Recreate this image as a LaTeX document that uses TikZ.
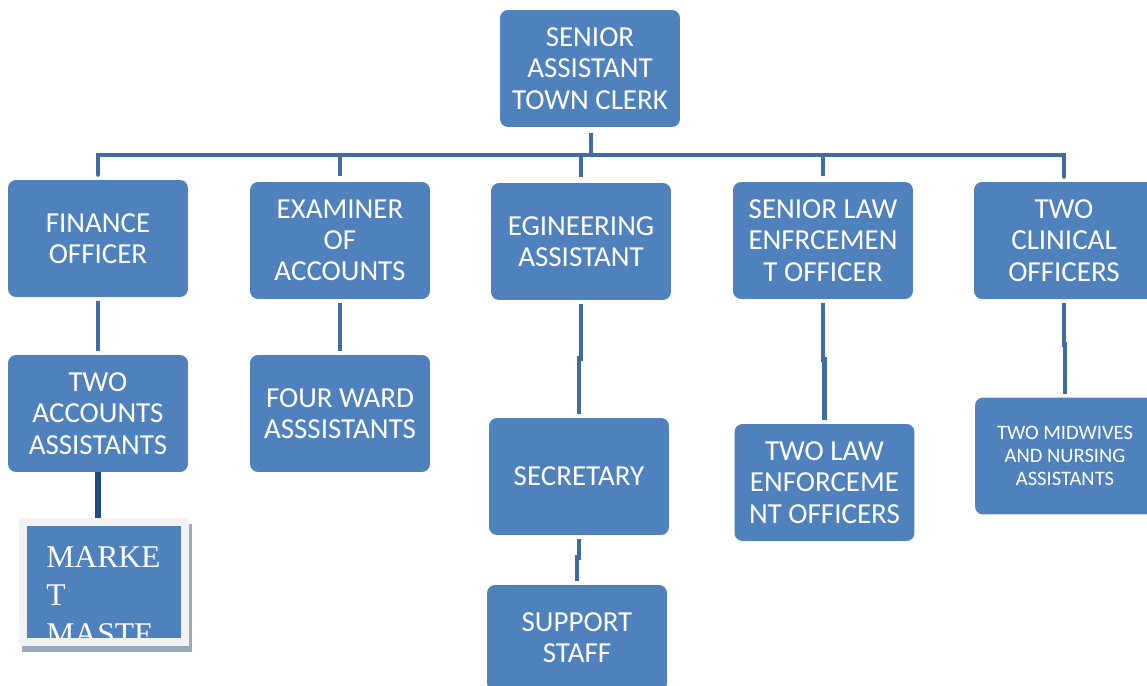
\documentclass[tikz,border=0pt]{standalone}
\usepackage{fontspec}
\setmainfont{Carlito}
\newfontfamily\marketface{Liberation Serif}
\definecolor{boxblue}{RGB}{79,129,189}
\definecolor{linkblue}{RGB}{65,108,162}
\definecolor{marketblue}{RGB}{31,74,128}
\definecolor{framegrey}{RGB}{242,242,242}
\definecolor{shadowgrey}{RGB}{156,168,188}

\begin{document}
\begin{tikzpicture}[x=0.02cm,y=-0.02cm,
  post/.style={fill=boxblue,rounded corners=0.16cm,text=white,align=center,
    minimum width=3.6cm,minimum height=2.34cm,inner sep=0pt,
    font=\fontsize{16.5}{17.8}\selectfont},
  link/.style={draw=linkblue,line width=2.8pt,shorten <=2pt,shorten >=2pt}]
\clip (0,0) rectangle (1147,686);

% head of the office
\node[post] (clerk) at (590,68.5) {SENIOR\\ASSISTANT\\TOWN CLERK};

% first row of officers
\node[post] (finance) at (98,238.5) {FINANCE\\OFFICER};
\node[post] (examiner) at (340,240.5) {EXAMINER\\OF\\ACCOUNTS};
\node[post] (engineering) at (581,241.5) {EGINEERING\\ASSISTANT};
\node[post] (lawsenior) at (823,240.5) {SENIOR LAW\\ENFRCEMEN\\T OFFICER};
\node[post] (clinical) at (1064,240.5) {TWO\\CLINICAL\\OFFICERS};

% staff under them
\node[post] (accounts) at (98,413.5) {TWO\\ACCOUNTS\\ASSISTANTS};
\node[post] (ward) at (340,413.5) {FOUR WARD\\ASSSISTANTS};
\node[post] (secretary) at (579,476.5) {SECRETARY};
\node[post] (lawtwo) at (824.5,482.5) {TWO LAW\\ENFORCEME\\NT OFFICERS};
\node[post,font=\fontsize{11.7}{13}\selectfont] (midwives) at (1065,456)
  {TWO MIDWIVES\\AND NURSING\\ASSISTANTS};
\node[post,minimum height=2.12cm] (support) at (577,638) {SUPPORT\\STAFF};

% market master, framed box with shadow
\fill[shadowgrey] (22,524) rectangle (192,652);
\node[fill=framegrey,minimum width=3.4cm,minimum height=2.56cm,inner sep=0pt]
  (market) at (104,582) {};
\node[fill=boxblue,minimum width=3.08cm,minimum height=2.24cm,inner sep=0pt]
  (marketin) at (104,582) {};
\begin{scope}
\clip (marketin.north west) rectangle (marketin.south east);
\node[anchor=north west,inner sep=0pt,align=left,text=white,
  font=\marketface\fontsize{18}{22}\selectfont] (markettext) at (46,546)
  {MARKE\\T\\MASTE};
\end{scope}

% bus under the head
\coordinate (bus) at (591,155);
\draw[link,shorten <=3pt,shorten >=0pt] (clerk.south -| bus) -- (bus);
\draw[link,line cap=round,shorten >=3pt,shorten <=3pt]
  (finance.north) -- (finance.north |- bus) -- (clinical.north |- bus)
  -- (clinical.north);
\draw[link,shorten <=0pt,shorten >=3pt] (bus -| examiner.north) -- (examiner.north);
\draw[link,shorten <=0pt,shorten >=3pt] (bus -| engineering.north) -- (engineering.north);
\draw[link,shorten <=0pt,shorten >=3pt] (bus -| lawsenior.north) -- (lawsenior.north);

% links down each column
\draw[link] (finance) -- (accounts);
\draw[link] (examiner) -- (ward);
\draw[link] (engineering.south) -- ++(0,58) -| (secretary.north);
\draw[link] (secretary.south) -- ++(0,22) -| (support.north);
\draw[link] (lawsenior.south) -- ++(0,60) -| (lawtwo.north);
\draw[link] (clinical.south) -- ++(0,45) -| (midwives.north);
\draw[link,draw=marketblue,line width=3.2pt,shorten <=0pt,shorten >=0pt]
  (accounts.south) -- (accounts.south |- market.north);
\end{tikzpicture}
\end{document}
